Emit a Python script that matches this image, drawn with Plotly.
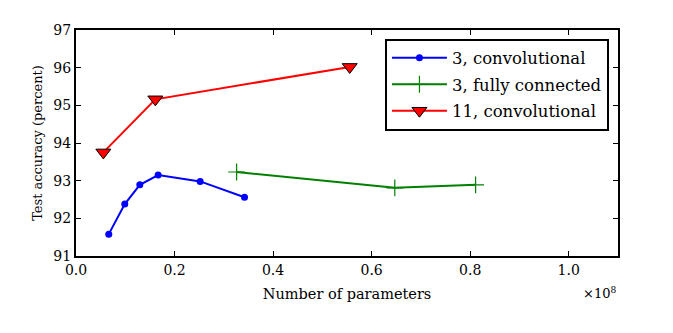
import plotly.graph_objects as go

# data (x in units of 1e8 parameters, y in percent)
conv3_x = [0.0665, 0.099, 0.1295, 0.1667, 0.252, 0.342]
conv3_y = [91.58, 92.38, 92.89, 93.15, 92.98, 92.56]
fc3_x = [0.326, 0.647, 0.811]
fc3_y = [93.23, 92.81, 92.89]
conv11_x = [0.0555, 0.161, 0.5555]
conv11_y = [93.75, 95.16, 96.02]

x_ticks = [0.0, 0.2, 0.4, 0.6, 0.8, 1.0]
x_ticklabels = ["0.0", "0.2", "0.4", "0.6", "0.8", "1.0"]
y_ticks = [91, 92, 93, 94, 95, 96, 97]

FONT = "DejaVu Serif"

fig = go.Figure()
fig.add_trace(go.Scatter(
    x=conv3_x, y=conv3_y, mode="lines+markers", name="3, convolutional",
    legendgroup="a",
    line=dict(color="#0000ff", width=2),
    marker=dict(symbol="circle", size=7, color="#0000ff"),
))
fig.add_trace(go.Scatter(
    x=fc3_x, y=fc3_y, mode="lines+markers", name="3, fully connected",
    legendgroup="b",
    line=dict(color="#008000", width=2),
    marker=dict(symbol="cross-thin", size=12, color="#008000",
                line=dict(color="#008000", width=1.2)),
))
fig.add_trace(go.Scatter(
    x=conv11_x, y=conv11_y, mode="lines+markers", name="11, convolutional",
    legendgroup="c",
    line=dict(color="#ff0000", width=2),
    marker=dict(symbol="triangle-down", size=13, color="#ff0000",
                line=dict(color="black", width=1)),
))

axis_common = dict(
    showline=True, linecolor="black", linewidth=2, mirror="ticks",
    ticks="inside", ticklen=5, tickwidth=1, tickcolor="black",
    showgrid=False, zeroline=False,
    tickfont=dict(family=FONT, size=14, color="black"),
)

fig.update_xaxes(range=[0, 1.1], tickvals=x_ticks, ticktext=x_ticklabels,
                 title=dict(text="Number of parameters", font=dict(family=FONT, size=14.5, color="black"), standoff=12),
                 **axis_common)
fig.update_yaxes(range=[91, 97], tickvals=y_ticks,
                 title=dict(text="Test accuracy (percent)", font=dict(family=FONT, size=13, color="black"), standoff=8),
                 **axis_common)

fig.add_annotation(xref="paper", yref="paper", x=1.0, y=-0.12, xanchor="right", yanchor="top",
                   text="×10<sup>8</sup>", showarrow=False,
                   font=dict(family=FONT, size=13, color="black"))

fig.update_layout(
    width=673, height=333,
    margin=dict(l=76, r=55, t=30, b=77),
    plot_bgcolor="white", paper_bgcolor="white",
    font=dict(family=FONT, size=13, color="black"),
    legend=dict(x=0.57, y=0.962, xanchor="left", yanchor="top",
                bordercolor="black", borderwidth=2, bgcolor="white",
                font=dict(family=FONT, size=16.5, color="black"),
                tracegroupgap=2, itemwidth=55),
)

fig.write_html("out.html")
